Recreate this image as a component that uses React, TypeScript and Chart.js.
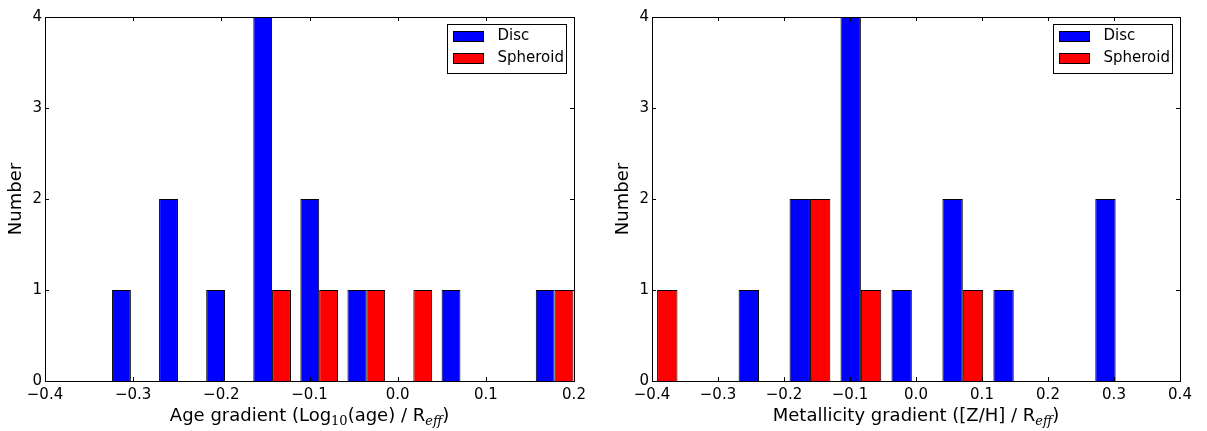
import React, { useEffect, useRef } from 'react';
import { Chart, registerables } from 'chart.js';

Chart.register(...registerables);

const seriesNames = ['Disc', 'Spheroid'];
const seriesColors = ['#0000ff', '#ff0000'];
const yTicks = [0, 1, 2, 3, 4];

// Left panel: age gradient histogram
const ageBinCenters = [-0.3026, -0.2492, -0.1958, -0.1424, -0.089, -0.0356, 0.0178, 0.0712, 0.1246, 0.178];
const ageDisc = [1, 2, 1, 4, 2, 1, 0, 1, 0, 1];
const ageSpheroid = [0, 0, 0, 1, 1, 1, 1, 0, 0, 1];
const ageXTicks = [-0.4, -0.3, -0.2, -0.1, 0, 0.1, 0.2];
const ageTitleParts = [
  { text: 'Age gradient (Log', kind: 'normal' },
  { text: '10', kind: 'sub' },
  { text: '(age) / R', kind: 'normal' },
  { text: 'eff', kind: 'subItalic' },
  { text: ')', kind: 'normal' },
];

// Right panel: metallicity gradient histogram
const metBinCenters = [-0.3923, -0.3151, -0.2379, -0.1607, -0.0835, -0.0063, 0.0709, 0.1481, 0.2253, 0.3025];
const metDisc = [0, 0, 1, 2, 4, 1, 2, 1, 0, 2];
const metSpheroid = [1, 0, 0, 2, 1, 0, 1, 0, 0, 0];
const metXTicks = [-0.4, -0.3, -0.2, -0.1, 0, 0.1, 0.2, 0.3, 0.4];
const metTitleParts = [
  { text: 'Metallicity gradient ([Z/H] / R', kind: 'normal' },
  { text: 'eff', kind: 'subItalic' },
  { text: ')', kind: 'normal' },
];

const FONT = "'DejaVu Sans', sans-serif";

function fmtX(v: number) {
  if (Math.abs(v) < 1e-9) return '0.0';
  return (v < 0 ? '\u2212' : '') + Math.abs(v).toFixed(1);
}

type PanelProps = {
  left: number;
  width: number;
  centers: number[];
  disc: number[];
  spheroid: number[];
  xTicks: number[];
  titleParts: { text: string; kind: string }[];
  padTop: number;
  padRight: number;
  yAxisWidth: number;
  yTitlePad: number;
};

function Panel(props: PanelProps) {
  const ref = useRef<HTMLCanvasElement | null>(null);

  useEffect(() => {
    const canvas = ref.current;
    if (!canvas) return;
    const { centers, disc, spheroid, xTicks, titleParts } = props;

    const decorPlugin = {
      id: 'decor',
      afterDraw(chart: any) {
        const ctx = chart.ctx;
        const ca = chart.chartArea;
        const xs = chart.scales.x;
        const ys = chart.scales.y;
        ctx.save();
        // frame
        ctx.strokeStyle = '#000';
        ctx.lineWidth = 1;
        ctx.strokeRect(Math.round(ca.left) + 0.5, Math.round(ca.top) + 0.5, Math.round(ca.right - ca.left), Math.round(ca.bottom - ca.top));
        // inward ticks
        const tl = 4;
        ctx.beginPath();
        xTicks.forEach((v) => {
          const px = Math.round(xs.getPixelForValue(v)) + 0.5;
          ctx.moveTo(px, ca.bottom);
          ctx.lineTo(px, ca.bottom - tl);
          ctx.moveTo(px, ca.top);
          ctx.lineTo(px, ca.top + tl);
        });
        yTicks.forEach((v) => {
          const py = Math.round(ys.getPixelForValue(v)) + 0.5;
          ctx.moveTo(ca.left, py);
          ctx.lineTo(ca.left + tl, py);
          ctx.moveTo(ca.right, py);
          ctx.lineTo(ca.right - tl, py);
        });
        ctx.stroke();

        // legend
        const bw = 119;
        const bh = 49;
        const bx = Math.round(ca.right - 8 - bw) + 0.5;
        const by = Math.round(ca.top + 7) + 0.5;
        ctx.fillStyle = '#fff';
        ctx.fillRect(bx, by, bw, bh);
        ctx.strokeStyle = '#000';
        ctx.strokeRect(bx, by, bw, bh);
        chart.data.datasets.forEach((ds: any, i: number) => {
          const ry = by + 7 + i * 22;
          ctx.fillStyle = ds.backgroundColor;
          ctx.fillRect(bx + 6, ry, 30, 10);
          ctx.strokeStyle = '#000';
          ctx.strokeRect(bx + 6, ry, 30, 10);
          ctx.fillStyle = '#000';
          ctx.font = `15px ${FONT}`;
          ctx.textBaseline = 'middle';
          ctx.textAlign = 'left';
          ctx.fillText(ds.label, bx + 50, ry + 5);
        });

        // x-axis title with subscripts
        const fonts: Record<string, string> = {
          normal: `18px ${FONT}`,
          sub: `13px 'DejaVu Serif', serif`,
          subItalic: `italic 13px 'DejaVu Serif', serif`,
        };
        const widths = titleParts.map((p) => {
          ctx.font = fonts[p.kind];
          return ctx.measureText(p.text).width;
        });
        const total = widths.reduce((a, b) => a + b, 0);
        let x = (ca.left + ca.right) / 2 - total / 2;
        const baseY = ca.bottom + 40;
        ctx.textBaseline = 'alphabetic';
        ctx.textAlign = 'left';
        ctx.fillStyle = '#000';
        titleParts.forEach((p, i) => {
          ctx.font = fonts[p.kind];
          const dy = p.kind === 'normal' ? 0 : 4;
          ctx.fillText(p.text, x, baseY + dy);
          x += widths[i];
        });
        ctx.restore();
      },
    };

    const chart = new Chart(canvas, {
      type: 'bar',
      data: {
        datasets: [
          {
            label: seriesNames[0],
            data: centers.map((c, i) => ({ x: c, y: disc[i] })),
            backgroundColor: seriesColors[0],
            borderColor: '#000',
            borderWidth: 1,
            borderSkipped: 'start',
          },
          {
            label: seriesNames[1],
            data: centers.map((c, i) => ({ x: c, y: spheroid[i] })),
            backgroundColor: seriesColors[1],
            borderColor: '#000',
            borderWidth: 1,
            borderSkipped: 'start',
          },
        ],
      },
      options: {
        animation: false,
        responsive: false,
        maintainAspectRatio: false,
        categoryPercentage: 0.8,
        barPercentage: 1.0,
        layout: { padding: { left: 0, top: props.padTop, right: props.padRight, bottom: 0 } },
        plugins: { legend: { display: false }, tooltip: { enabled: false } },
        scales: {
          x: {
            type: 'linear',
            min: xTicks[0],
            max: xTicks[xTicks.length - 1],
            offset: false,
            grid: { display: false, drawTicks: false, offset: false },
            border: { display: false },
            ticks: {
              color: '#000',
              font: { family: FONT, size: 15 },
              padding: 5,
              autoSkip: false,
              maxRotation: 0,
              callback: (v: any) => fmtX(Number(v)),
            },
            afterBuildTicks: (s: any) => {
              s.ticks = xTicks.map((v) => ({ value: v }));
            },
            afterFit: (s: any) => {
              s.height = 50;
            },
          },
          y: {
            type: 'linear',
            min: 0,
            max: 4,
            grid: { display: false, drawTicks: false },
            border: { display: false },
            ticks: {
              color: '#000',
              font: { family: FONT, size: 15 },
              padding: 3,
              callback: (v: any) => String(v),
            },
            afterBuildTicks: (s: any) => {
              s.ticks = yTicks.map((v) => ({ value: v }));
            },
            afterFit: (s: any) => {
              s.width = props.yAxisWidth;
            },
            title: {
              display: true,
              text: 'Number',
              color: '#000',
              font: { family: FONT, size: 18 },
              padding: { top: props.yTitlePad, bottom: 0 },
            },
          },
        },
      } as any,
      plugins: [decorPlugin],
    });
    return () => chart.destroy();
  }, []);

  return (
    <canvas
      ref={ref}
      width={props.width}
      height={431}
      style={{ position: 'absolute', left: props.left, top: 0, width: props.width, height: 431 }}
    />
  );
}

export default function App() {
  return (
    <div style={{ position: 'absolute', left: 0, top: 0, width: 1207, height: 431, background: '#fff', overflow: 'hidden' }}>
      <Panel
        left={0}
        width={603}
        centers={ageBinCenters}
        disc={ageDisc}
        spheroid={ageSpheroid}
        xTicks={ageXTicks}
        titleParts={ageTitleParts}
        padTop={17}
        padRight={29}
        yAxisWidth={45}
        yTitlePad={6}
      />
      <Panel
        left={603}
        width={604}
        centers={metBinCenters}
        disc={metDisc}
        spheroid={metSpheroid}
        xTicks={metXTicks}
        titleParts={metTitleParts}
        padTop={17}
        padRight={27}
        yAxisWidth={49}
        yTitlePad={10}
      />
    </div>
  );
}
